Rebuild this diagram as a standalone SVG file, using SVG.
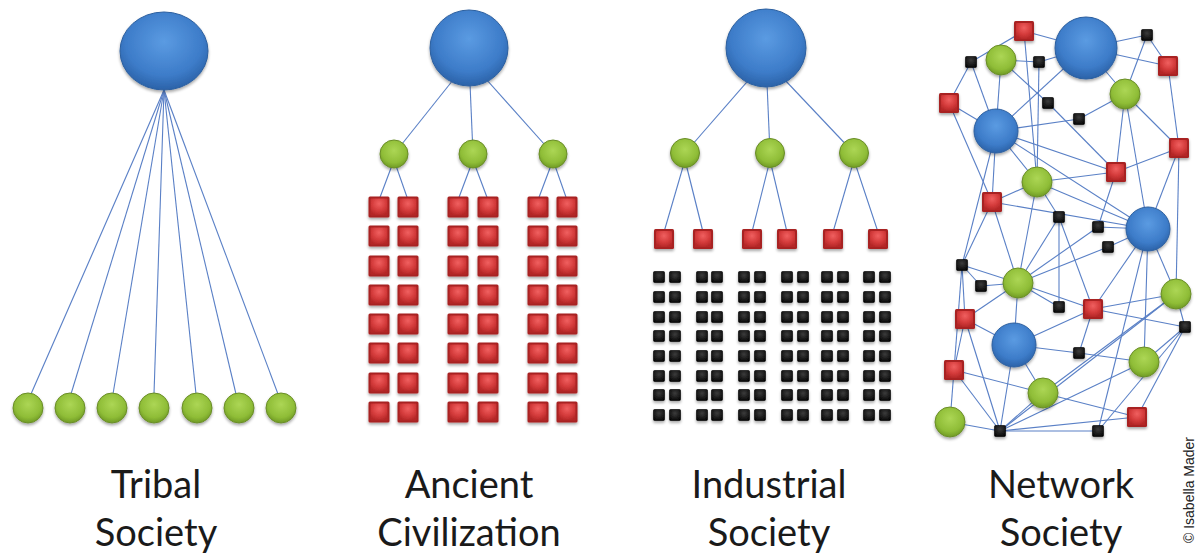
<svg xmlns="http://www.w3.org/2000/svg" xmlns:xlink="http://www.w3.org/1999/xlink" width="1196" height="553" viewBox="0 0 1196 553">
  <defs>
    <radialGradient id="gBlue" cx="50%" cy="38%" r="62%">
      <stop offset="0" stop-color="#5b9be2"/>
      <stop offset="0.7" stop-color="#3d7cc9"/>
      <stop offset="1" stop-color="#2b62a8"/>
    </radialGradient>
    <radialGradient id="gGreen" cx="50%" cy="38%" r="62%">
      <stop offset="0" stop-color="#acd655"/>
      <stop offset="0.7" stop-color="#8fbd37"/>
      <stop offset="1" stop-color="#6f9a24"/>
    </radialGradient>
    <radialGradient id="gRed" cx="50%" cy="30%" r="70%">
      <stop offset="0" stop-color="#f06060"/>
      <stop offset="0.6" stop-color="#d43b3b"/>
      <stop offset="1" stop-color="#b52828"/>
    </radialGradient>
    <radialGradient id="gBlack" cx="50%" cy="35%" r="70%">
      <stop offset="0" stop-color="#3c3c3c"/>
      <stop offset="1" stop-color="#050505"/>
    </radialGradient>
    <filter id="shadow" x="-40%" y="-40%" width="180%" height="200%">
      <feGaussianBlur in="SourceAlpha" stdDeviation="1.6"/>
      <feOffset dy="2.2" result="b"/>
      <feComponentTransfer><feFuncA type="linear" slope="0.35"/></feComponentTransfer>
      <feMerge><feMergeNode/><feMergeNode in="SourceGraphic"/></feMerge>
    </filter>
    <!-- reusable square shapes, centred on the origin -->
    <g id="redSq">
      <rect x="-10.5" y="-10.5" width="21" height="21" rx="1.5" fill="#a82222"/>
      <rect x="-8.5" y="-8.5" width="17" height="17" rx="1" fill="url(#gRed)"/>
    </g>
    <g id="redSqS">
      <rect x="-10" y="-10" width="20" height="20" rx="1.5" fill="#a82222"/>
      <rect x="-8" y="-8" width="16" height="16" rx="1" fill="url(#gRed)"/>
    </g>
    <rect id="blkSq" x="-5.5" y="-5.5" width="11" height="11" rx="1" fill="url(#gBlack)" stroke="#000" stroke-width="0.6"/>
    <rect id="blkSqS" x="-5.5" y="-5.5" width="11" height="11" rx="1" fill="url(#gBlack)" stroke="#000" stroke-width="0.6"/>
    <style>
      .edge { stroke: #5a80c6; stroke-width: 1.1; fill: none; }
      .blue { fill: url(#gBlue); stroke: #2c5f9f; stroke-width: 1; filter: url(#shadow); }
      .green { fill: url(#gGreen); stroke: #6a8d28; stroke-width: 1; filter: url(#shadow); }
      .sq { filter: url(#shadow); }
      .label { font-family: Lato, "Open Sans", sans-serif; font-size: 38px; fill: #1a1a1a; text-anchor: middle; }
      .credit { font-family: "Liberation Sans", Arial, sans-serif; font-size: 14px; fill: #222; text-anchor: middle; }
    </style>
  </defs>

  <rect width="1196" height="553" fill="#ffffff"/>

  <!-- ===================== connectors ===================== -->
  <g id="connectors" class="edge">
    <!-- tribal fan -->
    <g id="tribal-edges">
      <line x1="164" y1="90" x2="31" y2="394"/>
      <line x1="164" y1="90" x2="71" y2="394"/>
      <line x1="164" y1="90" x2="113" y2="394"/>
      <line x1="164" y1="90" x2="154" y2="394"/>
      <line x1="164" y1="90" x2="196" y2="394"/>
      <line x1="164" y1="90" x2="236" y2="394"/>
      <line x1="164" y1="90" x2="278" y2="394"/>
    </g>
    <!-- ancient hierarchy -->
    <g id="ancient-edges">
      <line x1="469" y1="60" x2="394" y2="154"/>
      <line x1="469" y1="60" x2="473" y2="154"/>
      <line x1="469" y1="60" x2="553" y2="154"/>
      <line x1="394" y1="160" x2="379" y2="200"/>
      <line x1="394" y1="160" x2="408" y2="200"/>
      <line x1="473" y1="160" x2="458" y2="200"/>
      <line x1="473" y1="160" x2="488" y2="200"/>
      <line x1="553" y1="160" x2="538" y2="200"/>
      <line x1="553" y1="160" x2="567" y2="200"/>
    </g>
    <!-- industrial hierarchy -->
    <g id="industrial-edges">
      <line x1="766" y1="60" x2="685" y2="153"/>
      <line x1="766" y1="60" x2="770" y2="153"/>
      <line x1="766" y1="60" x2="854" y2="153"/>
      <line x1="685" y1="160" x2="664" y2="232"/>
      <line x1="685" y1="160" x2="703" y2="232"/>
      <line x1="770" y1="160" x2="752" y2="232"/>
      <line x1="770" y1="160" x2="787" y2="232"/>
      <line x1="854" y1="160" x2="833" y2="232"/>
      <line x1="854" y1="160" x2="878" y2="232"/>
    </g>
    <!-- network mesh -->
    <g id="network-edges">
      <line x1="971" y1="62" x2="1024" y2="31"/>
      <line x1="1024" y1="31" x2="1086" y2="48"/>
      <line x1="1024" y1="31" x2="1037" y2="182"/>
      <line x1="1039" y1="62" x2="1037" y2="182"/>
      <line x1="1001" y1="60" x2="1039" y2="62"/>
      <line x1="1039" y1="62" x2="1086" y2="48"/>
      <line x1="1001" y1="60" x2="1048" y2="103"/>
      <line x1="1048" y1="103" x2="1116" y2="172"/>
      <line x1="1001" y1="60" x2="996" y2="131"/>
      <line x1="971" y1="62" x2="949" y2="103"/>
      <line x1="971" y1="62" x2="996" y2="131"/>
      <line x1="949" y1="103" x2="996" y2="131"/>
      <line x1="949" y1="103" x2="992" y2="202"/>
      <line x1="996" y1="131" x2="962" y2="265"/>
      <line x1="996" y1="131" x2="992" y2="202"/>
      <line x1="996" y1="131" x2="1086" y2="48"/>
      <line x1="996" y1="131" x2="1079" y2="119"/>
      <line x1="1079" y1="119" x2="1125" y2="94"/>
      <line x1="996" y1="131" x2="1116" y2="172"/>
      <line x1="996" y1="131" x2="1148" y2="229"/>
      <line x1="996" y1="131" x2="1037" y2="182"/>
      <line x1="1086" y1="48" x2="1147" y2="35"/>
      <line x1="1147" y1="35" x2="1125" y2="94"/>
      <line x1="1147" y1="35" x2="1168" y2="66"/>
      <line x1="1168" y1="66" x2="1086" y2="48"/>
      <line x1="1086" y1="48" x2="1125" y2="94"/>
      <line x1="1125" y1="94" x2="1179" y2="148"/>
      <line x1="1168" y1="66" x2="1179" y2="148"/>
      <line x1="1125" y1="94" x2="1116" y2="172"/>
      <line x1="1125" y1="94" x2="1148" y2="229"/>
      <line x1="1179" y1="148" x2="1116" y2="172"/>
      <line x1="1179" y1="148" x2="1176" y2="294"/>
      <line x1="1179" y1="148" x2="1148" y2="229"/>
      <line x1="1116" y1="172" x2="1037" y2="182"/>
      <line x1="1116" y1="172" x2="1098" y2="227"/>
      <line x1="1037" y1="182" x2="1148" y2="229"/>
      <line x1="992" y1="202" x2="1148" y2="229"/>
      <line x1="1037" y1="182" x2="992" y2="202"/>
      <line x1="1037" y1="182" x2="1018" y2="283"/>
      <line x1="1037" y1="182" x2="1059" y2="217"/>
      <line x1="1059" y1="217" x2="1059" y2="307"/>
      <line x1="1059" y1="217" x2="1093" y2="309"/>
      <line x1="1059" y1="217" x2="1018" y2="283"/>
      <line x1="992" y1="202" x2="1018" y2="283"/>
      <line x1="992" y1="202" x2="962" y2="265"/>
      <line x1="1098" y1="227" x2="1148" y2="229"/>
      <line x1="1098" y1="227" x2="1018" y2="283"/>
      <line x1="1108" y1="247" x2="1148" y2="229"/>
      <line x1="1108" y1="247" x2="1018" y2="283"/>
      <line x1="1148" y1="229" x2="1093" y2="309"/>
      <line x1="1148" y1="229" x2="1176" y2="294"/>
      <line x1="962" y1="265" x2="1018" y2="283"/>
      <line x1="962" y1="265" x2="981" y2="286"/>
      <line x1="962" y1="265" x2="965" y2="319"/>
      <line x1="962" y1="265" x2="954" y2="370"/>
      <line x1="981" y1="286" x2="1018" y2="283"/>
      <line x1="965" y1="319" x2="1018" y2="283"/>
      <line x1="965" y1="319" x2="1014" y2="345"/>
      <line x1="965" y1="319" x2="954" y2="370"/>
      <line x1="965" y1="319" x2="1000" y2="431"/>
      <line x1="1018" y1="283" x2="1014" y2="345"/>
      <line x1="1018" y1="283" x2="1059" y2="307"/>
      <line x1="1018" y1="283" x2="1093" y2="309"/>
      <line x1="1093" y1="309" x2="1014" y2="345"/>
      <line x1="1093" y1="309" x2="1079" y2="353"/>
      <line x1="1093" y1="309" x2="1176" y2="294"/>
      <line x1="1093" y1="309" x2="1185" y2="327"/>
      <line x1="1176" y1="294" x2="1043" y2="393"/>
      <line x1="1176" y1="294" x2="1185" y2="327"/>
      <line x1="1014" y1="345" x2="1079" y2="353"/>
      <line x1="1079" y1="353" x2="1144" y2="362"/>
      <line x1="1014" y1="345" x2="1043" y2="393"/>
      <line x1="1014" y1="345" x2="1000" y2="431"/>
      <line x1="954" y1="370" x2="1043" y2="393"/>
      <line x1="954" y1="370" x2="950" y2="422"/>
      <line x1="954" y1="370" x2="1000" y2="431"/>
      <line x1="950" y1="422" x2="1000" y2="431"/>
      <line x1="1043" y1="393" x2="1137" y2="417"/>
      <line x1="1043" y1="393" x2="1000" y2="431"/>
      <line x1="1000" y1="431" x2="1098" y2="431"/>
      <line x1="1000" y1="431" x2="1137" y2="417"/>
      <line x1="1000" y1="431" x2="1144" y2="362"/>
      <line x1="1000" y1="431" x2="1176" y2="294"/>
      <line x1="1098" y1="431" x2="1148" y2="229"/>
      <line x1="1098" y1="431" x2="1185" y2="327"/>
      <line x1="1144" y1="362" x2="1148" y2="229"/>
      <line x1="1144" y1="362" x2="1185" y2="327"/>
      <line x1="1137" y1="417" x2="1185" y2="327"/>
    </g>
  </g>

  <!-- ===================== Tribal Society ===================== -->
  <g id="tribal">
    <g id="tribal-chief"><ellipse class="blue" cx="164" cy="51" rx="44" ry="39"/></g>
    <g id="tribal-m1"><circle class="green" cx="28" cy="408" r="15"/></g>
    <g id="tribal-m2"><circle class="green" cx="70" cy="408" r="15"/></g>
    <g id="tribal-m3"><circle class="green" cx="112" cy="408" r="15"/></g>
    <g id="tribal-m4"><circle class="green" cx="154" cy="408" r="15"/></g>
    <g id="tribal-m5"><circle class="green" cx="197" cy="408" r="15"/></g>
    <g id="tribal-m6"><circle class="green" cx="239" cy="408" r="15"/></g>
    <g id="tribal-m7"><circle class="green" cx="281" cy="408" r="15"/></g>
  </g>

  <!-- ===================== Ancient Civilization ===================== -->
  <g id="ancient">
    <g id="ancient-ruler"><ellipse class="blue" cx="469" cy="48" rx="39" ry="38"/></g>
    <g id="ancient-g1"><circle class="green" cx="394" cy="154" r="14"/></g>
    <g id="ancient-g2"><circle class="green" cx="473" cy="154" r="14"/></g>
    <g id="ancient-g3"><circle class="green" cx="553" cy="154" r="14"/></g>
    <g id="ancient-workers" class="sq">
      <!-- row 1 -->
      <use id="a-1-1" xlink:href="#redSq" x="379" y="207"/><use id="a-1-2" xlink:href="#redSq" x="408" y="207"/><use id="a-1-3" xlink:href="#redSq" x="458" y="207"/><use id="a-1-4" xlink:href="#redSq" x="488" y="207"/><use id="a-1-5" xlink:href="#redSq" x="538" y="207"/><use id="a-1-6" xlink:href="#redSq" x="567" y="207"/>
      <!-- row 2 -->
      <use id="a-2-1" xlink:href="#redSq" x="379" y="236"/><use id="a-2-2" xlink:href="#redSq" x="408" y="236"/><use id="a-2-3" xlink:href="#redSq" x="458" y="236"/><use id="a-2-4" xlink:href="#redSq" x="488" y="236"/><use id="a-2-5" xlink:href="#redSq" x="538" y="236"/><use id="a-2-6" xlink:href="#redSq" x="567" y="236"/>
      <!-- row 3 -->
      <use id="a-3-1" xlink:href="#redSq" x="379" y="266"/><use id="a-3-2" xlink:href="#redSq" x="408" y="266"/><use id="a-3-3" xlink:href="#redSq" x="458" y="266"/><use id="a-3-4" xlink:href="#redSq" x="488" y="266"/><use id="a-3-5" xlink:href="#redSq" x="538" y="266"/><use id="a-3-6" xlink:href="#redSq" x="567" y="266"/>
      <!-- row 4 -->
      <use id="a-4-1" xlink:href="#redSq" x="379" y="295"/><use id="a-4-2" xlink:href="#redSq" x="408" y="295"/><use id="a-4-3" xlink:href="#redSq" x="458" y="295"/><use id="a-4-4" xlink:href="#redSq" x="488" y="295"/><use id="a-4-5" xlink:href="#redSq" x="538" y="295"/><use id="a-4-6" xlink:href="#redSq" x="567" y="295"/>
      <!-- row 5 -->
      <use id="a-5-1" xlink:href="#redSq" x="379" y="324"/><use id="a-5-2" xlink:href="#redSq" x="408" y="324"/><use id="a-5-3" xlink:href="#redSq" x="458" y="324"/><use id="a-5-4" xlink:href="#redSq" x="488" y="324"/><use id="a-5-5" xlink:href="#redSq" x="538" y="324"/><use id="a-5-6" xlink:href="#redSq" x="567" y="324"/>
      <!-- row 6 -->
      <use id="a-6-1" xlink:href="#redSq" x="379" y="353"/><use id="a-6-2" xlink:href="#redSq" x="408" y="353"/><use id="a-6-3" xlink:href="#redSq" x="458" y="353"/><use id="a-6-4" xlink:href="#redSq" x="488" y="353"/><use id="a-6-5" xlink:href="#redSq" x="538" y="353"/><use id="a-6-6" xlink:href="#redSq" x="567" y="353"/>
      <!-- row 7 -->
      <use id="a-7-1" xlink:href="#redSq" x="379" y="383"/><use id="a-7-2" xlink:href="#redSq" x="408" y="383"/><use id="a-7-3" xlink:href="#redSq" x="458" y="383"/><use id="a-7-4" xlink:href="#redSq" x="488" y="383"/><use id="a-7-5" xlink:href="#redSq" x="538" y="383"/><use id="a-7-6" xlink:href="#redSq" x="567" y="383"/>
      <!-- row 8 -->
      <use id="a-8-1" xlink:href="#redSq" x="379" y="412"/><use id="a-8-2" xlink:href="#redSq" x="408" y="412"/><use id="a-8-3" xlink:href="#redSq" x="458" y="412"/><use id="a-8-4" xlink:href="#redSq" x="488" y="412"/><use id="a-8-5" xlink:href="#redSq" x="538" y="412"/><use id="a-8-6" xlink:href="#redSq" x="567" y="412"/>
    </g>
  </g>

  <!-- ===================== Industrial Society ===================== -->
  <g id="industrial">
    <g id="industrial-owner"><ellipse class="blue" cx="766" cy="48" rx="40" ry="39"/></g>
    <g id="industrial-g1"><circle class="green" cx="685" cy="153" r="14.5"/></g>
    <g id="industrial-g2"><circle class="green" cx="770" cy="153" r="14.5"/></g>
    <g id="industrial-g3"><circle class="green" cx="854" cy="153" r="14.5"/></g>
    <g id="industrial-foremen" class="sq">
      <use id="i-f1" xlink:href="#redSqS" x="664" y="239"/>
      <use id="i-f2" xlink:href="#redSqS" x="703" y="239"/>
      <use id="i-f3" xlink:href="#redSqS" x="752" y="239"/>
      <use id="i-f4" xlink:href="#redSqS" x="787" y="239"/>
      <use id="i-f5" xlink:href="#redSqS" x="833" y="239"/>
      <use id="i-f6" xlink:href="#redSqS" x="878" y="239"/>
    </g>
    <g id="industrial-workers" class="sq">
      <use id="i-1-1" xlink:href="#blkSq" x="659" y="277"/><use id="i-1-2" xlink:href="#blkSq" x="675" y="277"/><use id="i-1-3" xlink:href="#blkSq" x="702" y="277"/><use id="i-1-4" xlink:href="#blkSq" x="717" y="277"/><use id="i-1-5" xlink:href="#blkSq" x="744" y="277"/><use id="i-1-6" xlink:href="#blkSq" x="760" y="277"/><use id="i-1-7" xlink:href="#blkSq" x="787" y="277"/><use id="i-1-8" xlink:href="#blkSq" x="803" y="277"/><use id="i-1-9" xlink:href="#blkSq" x="827" y="277"/><use id="i-1-10" xlink:href="#blkSq" x="843" y="277"/><use id="i-1-11" xlink:href="#blkSq" x="869" y="277"/><use id="i-1-12" xlink:href="#blkSq" x="885" y="277"/>
      <use id="i-2-1" xlink:href="#blkSq" x="659" y="297"/><use id="i-2-2" xlink:href="#blkSq" x="675" y="297"/><use id="i-2-3" xlink:href="#blkSq" x="702" y="297"/><use id="i-2-4" xlink:href="#blkSq" x="717" y="297"/><use id="i-2-5" xlink:href="#blkSq" x="744" y="297"/><use id="i-2-6" xlink:href="#blkSq" x="760" y="297"/><use id="i-2-7" xlink:href="#blkSq" x="787" y="297"/><use id="i-2-8" xlink:href="#blkSq" x="803" y="297"/><use id="i-2-9" xlink:href="#blkSq" x="827" y="297"/><use id="i-2-10" xlink:href="#blkSq" x="843" y="297"/><use id="i-2-11" xlink:href="#blkSq" x="869" y="297"/><use id="i-2-12" xlink:href="#blkSq" x="885" y="297"/>
      <use id="i-3-1" xlink:href="#blkSq" x="659" y="317"/><use id="i-3-2" xlink:href="#blkSq" x="675" y="317"/><use id="i-3-3" xlink:href="#blkSq" x="702" y="317"/><use id="i-3-4" xlink:href="#blkSq" x="717" y="317"/><use id="i-3-5" xlink:href="#blkSq" x="744" y="317"/><use id="i-3-6" xlink:href="#blkSq" x="760" y="317"/><use id="i-3-7" xlink:href="#blkSq" x="787" y="317"/><use id="i-3-8" xlink:href="#blkSq" x="803" y="317"/><use id="i-3-9" xlink:href="#blkSq" x="827" y="317"/><use id="i-3-10" xlink:href="#blkSq" x="843" y="317"/><use id="i-3-11" xlink:href="#blkSq" x="869" y="317"/><use id="i-3-12" xlink:href="#blkSq" x="885" y="317"/>
      <use id="i-4-1" xlink:href="#blkSq" x="659" y="336"/><use id="i-4-2" xlink:href="#blkSq" x="675" y="336"/><use id="i-4-3" xlink:href="#blkSq" x="702" y="336"/><use id="i-4-4" xlink:href="#blkSq" x="717" y="336"/><use id="i-4-5" xlink:href="#blkSq" x="744" y="336"/><use id="i-4-6" xlink:href="#blkSq" x="760" y="336"/><use id="i-4-7" xlink:href="#blkSq" x="787" y="336"/><use id="i-4-8" xlink:href="#blkSq" x="803" y="336"/><use id="i-4-9" xlink:href="#blkSq" x="827" y="336"/><use id="i-4-10" xlink:href="#blkSq" x="843" y="336"/><use id="i-4-11" xlink:href="#blkSq" x="869" y="336"/><use id="i-4-12" xlink:href="#blkSq" x="885" y="336"/>
      <use id="i-5-1" xlink:href="#blkSq" x="659" y="356"/><use id="i-5-2" xlink:href="#blkSq" x="675" y="356"/><use id="i-5-3" xlink:href="#blkSq" x="702" y="356"/><use id="i-5-4" xlink:href="#blkSq" x="717" y="356"/><use id="i-5-5" xlink:href="#blkSq" x="744" y="356"/><use id="i-5-6" xlink:href="#blkSq" x="760" y="356"/><use id="i-5-7" xlink:href="#blkSq" x="787" y="356"/><use id="i-5-8" xlink:href="#blkSq" x="803" y="356"/><use id="i-5-9" xlink:href="#blkSq" x="827" y="356"/><use id="i-5-10" xlink:href="#blkSq" x="843" y="356"/><use id="i-5-11" xlink:href="#blkSq" x="869" y="356"/><use id="i-5-12" xlink:href="#blkSq" x="885" y="356"/>
      <use id="i-6-1" xlink:href="#blkSq" x="659" y="376"/><use id="i-6-2" xlink:href="#blkSq" x="675" y="376"/><use id="i-6-3" xlink:href="#blkSq" x="702" y="376"/><use id="i-6-4" xlink:href="#blkSq" x="717" y="376"/><use id="i-6-5" xlink:href="#blkSq" x="744" y="376"/><use id="i-6-6" xlink:href="#blkSq" x="760" y="376"/><use id="i-6-7" xlink:href="#blkSq" x="787" y="376"/><use id="i-6-8" xlink:href="#blkSq" x="803" y="376"/><use id="i-6-9" xlink:href="#blkSq" x="827" y="376"/><use id="i-6-10" xlink:href="#blkSq" x="843" y="376"/><use id="i-6-11" xlink:href="#blkSq" x="869" y="376"/><use id="i-6-12" xlink:href="#blkSq" x="885" y="376"/>
      <use id="i-7-1" xlink:href="#blkSq" x="659" y="395"/><use id="i-7-2" xlink:href="#blkSq" x="675" y="395"/><use id="i-7-3" xlink:href="#blkSq" x="702" y="395"/><use id="i-7-4" xlink:href="#blkSq" x="717" y="395"/><use id="i-7-5" xlink:href="#blkSq" x="744" y="395"/><use id="i-7-6" xlink:href="#blkSq" x="760" y="395"/><use id="i-7-7" xlink:href="#blkSq" x="787" y="395"/><use id="i-7-8" xlink:href="#blkSq" x="803" y="395"/><use id="i-7-9" xlink:href="#blkSq" x="827" y="395"/><use id="i-7-10" xlink:href="#blkSq" x="843" y="395"/><use id="i-7-11" xlink:href="#blkSq" x="869" y="395"/><use id="i-7-12" xlink:href="#blkSq" x="885" y="395"/>
      <use id="i-8-1" xlink:href="#blkSq" x="659" y="415"/><use id="i-8-2" xlink:href="#blkSq" x="675" y="415"/><use id="i-8-3" xlink:href="#blkSq" x="702" y="415"/><use id="i-8-4" xlink:href="#blkSq" x="717" y="415"/><use id="i-8-5" xlink:href="#blkSq" x="744" y="415"/><use id="i-8-6" xlink:href="#blkSq" x="760" y="415"/><use id="i-8-7" xlink:href="#blkSq" x="787" y="415"/><use id="i-8-8" xlink:href="#blkSq" x="803" y="415"/><use id="i-8-9" xlink:href="#blkSq" x="827" y="415"/><use id="i-8-10" xlink:href="#blkSq" x="843" y="415"/><use id="i-8-11" xlink:href="#blkSq" x="869" y="415"/><use id="i-8-12" xlink:href="#blkSq" x="885" y="415"/>
    </g>
  </g>

  <!-- ===================== Network Society ===================== -->
  <g id="network">
    <g id="n-b1"><circle class="blue" cx="1086" cy="48" r="31"/></g>
    <g id="n-b2"><circle class="blue" cx="996" cy="131" r="22"/></g>
    <g id="n-b3"><circle class="blue" cx="1148" cy="229" r="22"/></g>
    <g id="n-b4"><circle class="blue" cx="1014" cy="345" r="22"/></g>
    <g id="n-g1"><circle class="green" cx="1001" cy="60" r="15"/></g>
    <g id="n-g2"><circle class="green" cx="1125" cy="94" r="15"/></g>
    <g id="n-g3"><circle class="green" cx="1037" cy="182" r="15"/></g>
    <g id="n-g4"><circle class="green" cx="1018" cy="283" r="15"/></g>
    <g id="n-g5"><circle class="green" cx="1176" cy="294" r="15"/></g>
    <g id="n-g6"><circle class="green" cx="1144" cy="362" r="15"/></g>
    <g id="n-g7"><circle class="green" cx="1043" cy="393" r="15"/></g>
    <g id="n-g8"><circle class="green" cx="950" cy="422" r="15"/></g>
    <g id="n-r1" class="sq"><use xlink:href="#redSqS" x="1024" y="31"/></g>
    <g id="n-r2" class="sq"><use xlink:href="#redSqS" x="1168" y="66"/></g>
    <g id="n-r3" class="sq"><use xlink:href="#redSqS" x="949" y="103"/></g>
    <g id="n-r4" class="sq"><use xlink:href="#redSqS" x="1179" y="148"/></g>
    <g id="n-r5" class="sq"><use xlink:href="#redSqS" x="1116" y="172"/></g>
    <g id="n-r6" class="sq"><use xlink:href="#redSqS" x="992" y="202"/></g>
    <g id="n-r7" class="sq"><use xlink:href="#redSqS" x="1093" y="309"/></g>
    <g id="n-r8" class="sq"><use xlink:href="#redSqS" x="965" y="319"/></g>
    <g id="n-r9" class="sq"><use xlink:href="#redSqS" x="954" y="370"/></g>
    <g id="n-r10" class="sq"><use xlink:href="#redSqS" x="1137" y="417"/></g>
    <g id="n-k1" class="sq"><use xlink:href="#blkSqS" x="971" y="62"/></g>
    <g id="n-k2" class="sq"><use xlink:href="#blkSqS" x="1039" y="62"/></g>
    <g id="n-k3" class="sq"><use xlink:href="#blkSqS" x="1147" y="35"/></g>
    <g id="n-k4" class="sq"><use xlink:href="#blkSqS" x="1048" y="103"/></g>
    <g id="n-k5" class="sq"><use xlink:href="#blkSqS" x="1079" y="119"/></g>
    <g id="n-k6" class="sq"><use xlink:href="#blkSqS" x="1059" y="217"/></g>
    <g id="n-k7" class="sq"><use xlink:href="#blkSqS" x="1098" y="227"/></g>
    <g id="n-k8" class="sq"><use xlink:href="#blkSqS" x="1108" y="247"/></g>
    <g id="n-k9" class="sq"><use xlink:href="#blkSqS" x="962" y="265"/></g>
    <g id="n-k10" class="sq"><use xlink:href="#blkSqS" x="981" y="286"/></g>
    <g id="n-k11" class="sq"><use xlink:href="#blkSqS" x="1059" y="307"/></g>
    <g id="n-k12" class="sq"><use xlink:href="#blkSqS" x="1185" y="327"/></g>
    <g id="n-k13" class="sq"><use xlink:href="#blkSqS" x="1079" y="353"/></g>
    <g id="n-k14" class="sq"><use xlink:href="#blkSqS" x="1000" y="431"/></g>
    <g id="n-k15" class="sq"><use xlink:href="#blkSqS" x="1098" y="431"/></g>
  </g>

  <!-- ===================== captions ===================== -->
  <g id="captions" class="label">
    <text x="156" y="498">Tribal</text>
    <text x="156" y="546">Society</text>
    <text x="469" y="498">Ancient</text>
    <text x="469" y="546">Civilization</text>
    <text x="769" y="498">Industrial</text>
    <text x="769" y="546">Society</text>
    <text x="1061" y="498">Network</text>
    <text x="1061" y="546">Society</text>
  </g>
  <text class="credit" transform="translate(1194 490) rotate(-90)">© Isabella Mader</text>
</svg>
